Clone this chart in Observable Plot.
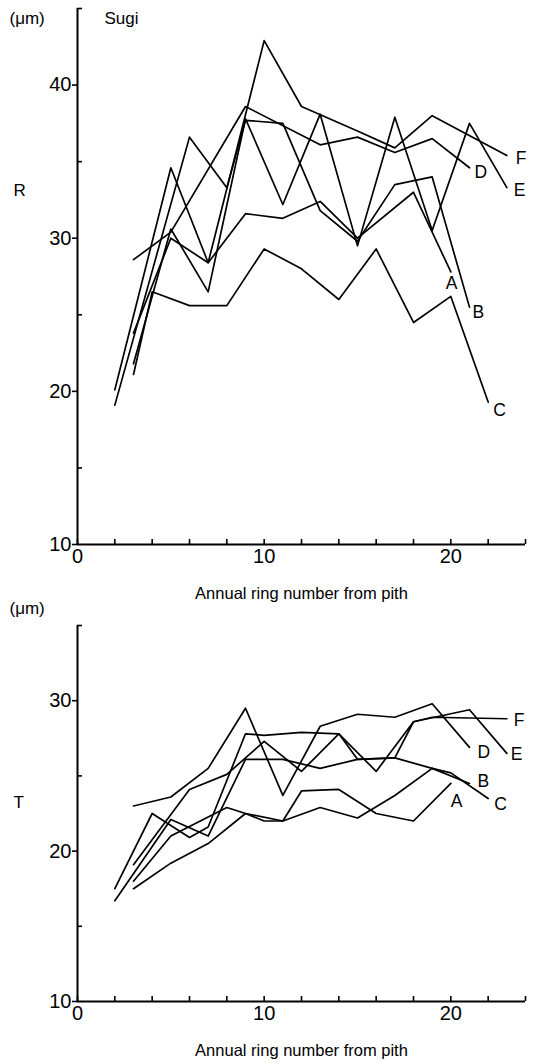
<!DOCTYPE html>
<html><head><meta charset="utf-8">
<script src="https://cdn.jsdelivr.net/npm/d3@7"></script>
<script src="https://cdn.jsdelivr.net/npm/@observablehq/plot@0.6"></script>
<style>
body{margin:0;background:#fff;}
#chart svg{display:block;}
</style>
</head><body><div id="chart"></div>
<script>
// ---- Top panel: R (radial), Sugi ----
const R_A_ring = [3, 5, 7, 9, 11, 13, 15, 18, 20];
const R_A_val  = [23.8, 30.0, 28.4, 31.6, 31.3, 32.4, 30.0, 33.0, 27.8];
const R_B_ring = [2, 6, 8, 9, 11, 13, 15, 17, 19, 21];
const R_B_val  = [19.1, 36.6, 33.3, 37.7, 37.5, 31.8, 29.8, 33.5, 34.0, 25.5];
const R_C_ring = [3, 4, 6, 8, 10, 12, 14, 16, 18, 20, 22];
const R_C_val  = [21.1, 26.5, 25.6, 25.6, 29.3, 28.0, 26.0, 29.3, 24.5, 26.2, 19.3];
const R_D_ring = [3, 5, 9, 13, 15, 17, 19, 21];
const R_D_val  = [28.6, 30.4, 38.6, 36.1, 36.6, 35.6, 36.5, 34.6];
const R_E_ring = [3, 5, 7, 9, 11, 13, 15, 17, 19, 21, 23];
const R_E_val  = [21.8, 30.6, 26.5, 37.8, 32.2, 38.1, 29.5, 37.9, 30.5, 37.5, 33.3];
const R_F_ring = [2, 5, 7, 10, 12, 15, 17, 19, 23];
const R_F_val  = [20.1, 34.6, 28.4, 42.9, 38.6, 37.0, 35.9, 38.0, 35.4];

// ---- Bottom panel: T (tangential) ----
const T_A_ring = [3, 5, 7, 9, 10, 11, 12, 14, 16, 18, 20];
const T_A_val  = [17.5, 19.2, 20.5, 22.5, 22.0, 22.0, 24.0, 24.1, 22.5, 22.0, 24.5];
const T_B_ring = [2, 5, 7, 9, 11, 13, 15, 17, 19, 21];
const T_B_val  = [16.7, 22.1, 21.0, 26.1, 26.1, 25.5, 26.1, 26.2, 25.5, 24.5];
const T_C_ring = [3, 5, 8, 9, 11, 13, 15, 17, 19, 20, 22];
const T_C_val  = [18.0, 21.0, 22.9, 22.5, 22.0, 22.9, 22.2, 23.7, 25.5, 25.2, 23.5];
const T_D_ring = [3, 5, 7, 9, 11, 13, 15, 17, 19, 21];
const T_D_val  = [23.0, 23.6, 25.5, 29.5, 23.7, 28.3, 29.1, 28.9, 29.8, 26.9];
const T_E_ring = [3, 6, 8, 10, 12, 14, 16, 18, 21, 23];
const T_E_val  = [19.1, 24.1, 25.1, 27.3, 25.3, 27.8, 25.3, 28.6, 29.4, 26.5];
const T_F_ring = [2, 4, 6, 7, 9, 10, 12, 14, 15, 17, 18, 19, 23];
const T_F_val  = [17.5, 22.5, 20.9, 21.6, 27.8, 27.7, 27.9, 27.8, 26.1, 26.2, 28.6, 28.9, 28.8];

const seriesNames = ["A", "B", "C", "D", "E", "F"];
const xMinorTicks = [0, 2, 4, 6, 8, 10, 12, 14, 16, 18, 20, 22, 24];
const xLabelTicks = [0, 10, 20];

(function () {
  const topSeries = {A: [R_A_ring, R_A_val], B: [R_B_ring, R_B_val], C: [R_C_ring, R_C_val],
                     D: [R_D_ring, R_D_val], E: [R_E_ring, R_E_val], F: [R_F_ring, R_F_val]};
  const botSeries = {A: [T_A_ring, T_A_val], B: [T_B_ring, T_B_val], C: [T_C_ring, T_C_val],
                     D: [T_D_ring, T_D_val], E: [T_E_ring, T_E_val], F: [T_F_ring, T_F_val]};
  // label offsets (pixels, text centre) relative to each series end
  const topLabelOffset = {A: [-5, 11], B: [3, 5], C: [5, 8], D: [5, 5], E: [7, 3], F: [9, 3]};
  const botLabelOffset = {A: [0, 18], B: [8, -2], C: [6, 6], D: [8, 5], E: [4, 1], F: [7, 2]};

  function rowsOf(series) {
    const rows = [];
    for (const s of seriesNames) {
      const [rs, vs] = series[s];
      rs.forEach((r, i) => rows.push({series: s, ring: r, value: vs[i]}));
    }
    return rows;
  }
  function endsOf(series, offs) {
    return seriesNames.map(s => {
      const [rs, vs] = series[s];
      return {series: s, ring: rs[rs.length - 1], value: vs[vs.length - 1], dx: offs[s][0], dy: offs[s][1]};
    });
  }
  const FONT = "'Liberation Sans', Arial, Helvetica, sans-serif";

  function panel(opts) {
    const ends = endsOf(opts.series, opts.offs);
    const labelMarks = ends.map(e => Plot.text([e], {x: "ring", y: "value", text: "series", dx: e.dx, dy: e.dy, fontSize: 17.5, textAnchor: "start"}));
    const rows = rowsOf(opts.series);
    const {yDomain, yMajor, yMinor, height, marginTop, marginBottom, unitLabel, letter, letterY, extra} = opts;
    return Plot.plot({
      width: 533, height, marginTop, marginBottom, marginLeft: 77, marginRight: 8,
      x: {domain: [0, 24]},
      y: {domain: yDomain},
      style: {fontFamily: FONT, color: "#000", background: "#fff", overflow: "visible"},
      marks: [
        Plot.ruleX([0], {stroke: "#000", strokeWidth: 2}),
        Plot.ruleY([yDomain[0]], {stroke: "#000", strokeWidth: 2}),
        Plot.axisX({ticks: xMinorTicks, tickSize: -5, tickFormat: () => "", strokeWidth: 1.6, label: null}),
        Plot.axisX({ticks: xLabelTicks, tickSize: 0, tickPadding: 4, fontSize: 20, label: null}),
        Plot.axisY({ticks: yMajor, tickSize: 5, tickPadding: 1, fontSize: 20, strokeWidth: 1.6, label: null}),
        Plot.axisY({ticks: yMinor, tickSize: -5, tickFormat: () => "", strokeWidth: 1.6, label: null}),
        Plot.text(["Annual ring number from pith"], {frameAnchor: "bottom", dy: 43, fontSize: 16.5, lineAnchor: "top"}),
        Plot.text([unitLabel], {frameAnchor: "top-left", dx: -68, dy: letterY[0], fontSize: 17, textAnchor: "start"}),
        Plot.text([letter], {frameAnchor: "top-left", dx: -64, dy: letterY[1], fontSize: 17, textAnchor: "start"}),
        ...(extra || []),
        Plot.line(rows, {x: "ring", y: "value", z: "series", stroke: "#000", strokeWidth: 1.7, curve: "linear"}),
        ...labelMarks
      ]
    });
  }

  const topChart = panel({
    series: topSeries, offs: topLabelOffset,
    yDomain: [10, 45], yMajor: [10, 20, 30, 40], yMinor: [15, 25, 35, 45],
    height: 600, marginTop: 8, marginBottom: 56,
    unitLabel: "(\u03bcm)", letter: "R", letterY: [3, 175],
    extra: [Plot.text(["Sugi"], {frameAnchor: "top-left", dx: 27, dy: 3, fontSize: 17, textAnchor: "start"})]
  });
  const bottomChart = panel({
    series: botSeries, offs: botLabelOffset,
    yDomain: [10, 35], yMajor: [10, 20, 30], yMinor: [15, 25, 35],
    height: 464, marginTop: 25, marginBottom: 63,
    unitLabel: "(\u03bcm)", letter: "T", letterY: [-24, 170]
  });
  document.getElementById("chart").append(topChart, bottomChart);
})();
</script>
</body></html>
